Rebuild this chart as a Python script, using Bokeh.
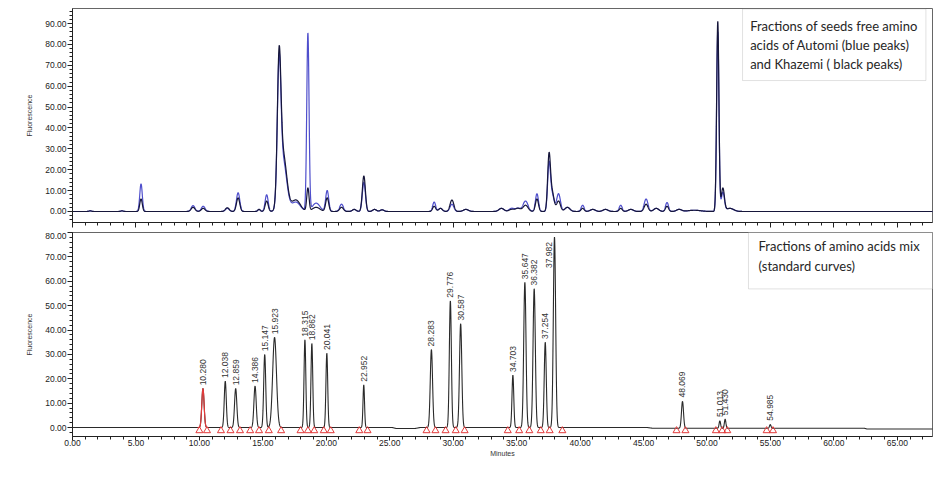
import numpy as np
from bokeh.plotting import figure
from bokeh.layouts import column
from bokeh.models import Range1d, FixedTicker, NumeralTickFormatter, BoxAnnotation, Label
from bokeh.core.properties import value
from bokeh.embed import file_html
from bokeh.resources import INLINE

# ---------------- data ----------------
# Top panel: seeds free amino acids (retention time in minutes, heights)
top_peak_t = [1.4, 3.9, 5.4, 9.5, 10.3, 12.2, 13.05, 14.7, 15.3, 16.28, 16.6, 17.6,
              18.55, 19.2, 20.07, 21.2, 22.2, 22.96, 23.8, 24.4, 28.5, 29.0, 29.9,
              31.0, 33.8, 34.6, 35.1, 35.7, 36.6, 37.55, 37.8, 38.3, 39.0, 40.2,
              41.0, 42.0, 43.2, 44.0, 45.2, 46.0, 46.85, 47.8, 49.0, 50.85, 51.25, 51.8]
blue_h = [0.3, 0.3, 13.2, 2.8, 2.5, 1.5, 9.0, 1.0, 8.0, 63.0, 24.0, 4.5,
          85.0, 4.0, 10.0, 3.5, 1.0, 14.0, 1.0, 0.8, 4.5, 1.5, 3.5,
          1.0, 1.5, 1.5, 1.5, 5.0, 8.5, 22.0, 8.0, 8.5, 2.0, 3.0,
          1.0, 1.0, 3.0, 1.0, 6.0, 1.5, 4.3, 1.0, 0.6, 86.0, 9.0, 1.5]
black_h = [0.3, 0.3, 6.0, 2.0, 1.5, 1.8, 6.5, 1.0, 5.0, 65.0, 27.0, 5.5,
           11.0, 2.0, 6.5, 2.0, 1.0, 17.0, 1.0, 0.8, 2.5, 1.5, 5.5,
           1.0, 1.5, 1.0, 1.5, 3.0, 6.0, 26.0, 9.0, 5.0, 2.0, 1.5,
           1.0, 1.0, 1.5, 1.0, 3.5, 1.5, 2.5, 1.0, 0.6, 91.0, 11.0, 1.5]
top_sigma = [0.1, 0.1, 0.1, 0.15, 0.15, 0.15, 0.13, 0.1, 0.12, 0.14, 0.28, 0.35,
             0.09, 0.3, 0.12, 0.15, 0.15, 0.12, 0.15, 0.15, 0.12, 0.15, 0.15,
             0.2, 0.2, 0.2, 0.2, 0.2, 0.12, 0.11, 0.15, 0.15, 0.2, 0.12,
             0.2, 0.2, 0.12, 0.2, 0.15, 0.2, 0.12, 0.2, 0.5, 0.09, 0.12, 0.3]

# Bottom panel: amino acids mix (standard)
std_peak_t = [10.280, 12.038, 12.859, 14.386, 15.147, 15.923, 18.315, 18.862, 20.041,
              22.952, 28.283, 29.776, 30.587, 34.703, 35.647, 36.382, 37.254, 37.982,
              48.069, 51.013, 51.430, 54.985]
std_labels = ["10.280", "12.038", "12.859", "14.386", "15.147", "15.923", "18.315",
              "18.862", "20.041", "22.952", "28.283", "29.776", "30.587", "34.703",
              "35.647", "36.382", "37.254", "37.982", "48.069", "51.013", "51.430",
              "54.985"]
std_h = [16.0, 19.0, 16.0, 17.0, 30.0, 37.0, 36.0, 34.5, 30.5, 17.5, 32.0, 52.0,
         42.6, 21.5, 59.6, 57.0, 35.0, 78.2, 11.0, 3.0, 3.7, 1.5]
std_sigma = [0.09, 0.08, 0.09, 0.09, 0.08, 0.15, 0.07, 0.07, 0.07, 0.06, 0.09, 0.08,
             0.09, 0.07, 0.09, 0.09, 0.08, 0.09, 0.08, 0.06, 0.06, 0.06]
std_base_t = [0.0, 25.2, 25.5, 27.0, 27.4, 45.3, 45.7, 62.4, 62.6, 67.8]
std_base_v = [0.0, 0.0, -0.4, -0.4, 0.0, 0.0, -0.3, -0.3, -0.6, -0.6]
# integration marks (peak start / end, minutes)
mark_t = [10.0, 10.6, 11.7, 12.45, 13.2, 14.0, 14.7, 15.47, 16.44, 17.97, 18.55,
          19.05, 19.8, 20.35, 22.6, 23.25, 27.9, 28.6, 29.4, 30.2, 30.9, 34.3,
          35.2, 36.0, 36.9, 37.6, 38.6, 47.6, 48.3, 50.7, 51.2, 51.6, 54.7, 55.2]

x_major = [0, 5, 10, 15, 20, 25, 30, 35, 40, 45, 50, 55, 60, 65]
x_minor = list(range(0, 68))
top_y_major = [0, 10, 20, 30, 40, 50, 60, 70, 80, 90]
top_y_minor = list(range(-4, 97, 2))
bot_y_major = [0, 10, 20, 30, 40, 50, 60, 70, 80]
bot_y_minor = list(range(-2, 81, 2))

top_note = ["Fractions of seeds free amino", "acids of Automi (blue peaks)",
            "and Khazemi ( black peaks)"]
bot_note = ["Fractions of amino acids mix", "(standard curves)"]

# ---------------- rendering ----------------
t = np.linspace(0, 67.8, 6781)


def trace(ts, hs, ss, base=None):
    y = np.zeros_like(t) if base is None else base.copy()
    for a, h, s in zip(ts, hs, ss):
        y += h * np.exp(-0.5 * ((t - a) / s) ** 2)
    return y


TICK_FONT = "Liberation Sans"


def style(p, ymaj, ymin, show_x_labels):
    p.xgrid.grid_line_color = None
    p.ygrid.grid_line_color = None
    p.outline_line_color = "#666666"
    p.xaxis.ticker = FixedTicker(ticks=x_major, minor_ticks=x_minor)
    p.yaxis.ticker = FixedTicker(ticks=ymaj, minor_ticks=ymin)
    p.xaxis.formatter = NumeralTickFormatter(format="0.00")
    p.yaxis.formatter = NumeralTickFormatter(format="0.00")
    for ax in (p.xaxis, p.yaxis):
        ax.axis_line_color = "#222222"
        ax.major_tick_line_color = "#222222"
        ax.minor_tick_line_color = "#222222"
        ax.major_tick_out = 5
        ax.major_tick_in = 0
        ax.minor_tick_out = 3
        ax.minor_tick_in = 0
        ax.major_label_text_font = TICK_FONT
        ax.major_label_text_font_size = "8.5px"
        ax.major_label_text_color = "#222222"
        ax.axis_label_text_font = TICK_FONT
        ax.axis_label_text_font_size = "7px"
        ax.axis_label_text_font_style = "normal"
        ax.axis_label_text_color = "#333333"
    p.yaxis.major_label_standoff = 1
    p.yaxis.axis_label = "Fluorescence"
    p.yaxis.axis_label_standoff = 9
    if show_x_labels:
        p.xaxis.major_tick_out = 4
        p.xaxis.major_label_standoff = -1
        p.xaxis.axis_label = "Minutes"
        p.xaxis.axis_label_standoff = 1
    else:
        p.xaxis.major_label_overrides = {k: "" for k in x_major}
        p.xaxis.major_label_standoff = 0


W = 940
p1 = figure(width=W, height=232, x_range=Range1d(0, 67.77), y_range=Range1d(-5.27, 97.2),
            output_backend="svg", toolbar_location=None,
            min_border_left=72, min_border_right=8, min_border_top=8, min_border_bottom=10)
style(p1, top_y_major, top_y_minor, False)

y_blue = trace(top_peak_t, blue_h, top_sigma)
y_black = trace(top_peak_t, black_h, top_sigma)
p1.line(t, y_blue, line_color="#4f4fcc", line_width=1.2)
p1.line(t, y_black, line_color="#16163a", line_width=1.2)

p1.add_layout(BoxAnnotation(left=52.8, right=67.25, top=97.0, bottom=62.7,
                            fill_color="white", fill_alpha=1.0,
                            line_color="#9a9a9a", line_width=1))
for i, s in enumerate(top_note):
    p1.add_layout(Label(x=53.4, y=89.0 - i * 9.1, text=s, text_baseline="middle",
                        text_font="Lato", text_font_size="13px", text_color="#262626"))

p2 = figure(width=W, height=238, x_range=p1.x_range, y_range=Range1d(-3.69, 80.05),
            output_backend="svg", toolbar_location=None,
            min_border_left=72, min_border_right=8, min_border_top=0, min_border_bottom=34)
style(p2, bot_y_major, bot_y_minor, True)

base = np.interp(t, std_base_t, std_base_v)
y_std = trace(std_peak_t, std_h, std_sigma, base)
p2.line(t, y_std, line_color="#2a2a2a", line_width=1.1)
red = (t > 9.85) & (t < 10.72)
p2.line(t[red], y_std[red], line_color="#e23a3a", line_width=1.2)
p2.scatter(mark_t, [-1.3] * len(mark_t), marker="triangle", size=7,
           fill_color=None, line_color="#e23a3a", line_width=1)

# labels sit just above each peak; a label that would leave the frame is pulled
# down beside its peak
lab_top = 65.5
lab_y = [min(h + 1.3, lab_top) for h in std_h]
lab_x = [tt - (0.4 if h + 1.3 > lab_top else 0.0) for tt, h in zip(std_peak_t, std_h)]
p2.text(x=lab_x, y=lab_y, text=std_labels, angle=np.pi / 2,
        text_align="left", text_baseline="middle", text_font=value(TICK_FONT),
        text_font_size="8.5px", text_color="#333333")

p2.add_layout(BoxAnnotation(left=53.27, right=67.77, top=80.05, bottom=56.9,
                            fill_color="white", fill_alpha=1.0,
                            line_color="#9a9a9a", line_width=1))
for i, s in enumerate(bot_note):
    p2.add_layout(Label(x=54.06, y=74.6 - i * 8.2, text=s, text_baseline="middle",
                        text_font="Lato", text_font_size="13px", text_color="#262626"))

layout = column(p1, p2, spacing=0)
open("out.html", "w").write(file_html(layout, INLINE))
